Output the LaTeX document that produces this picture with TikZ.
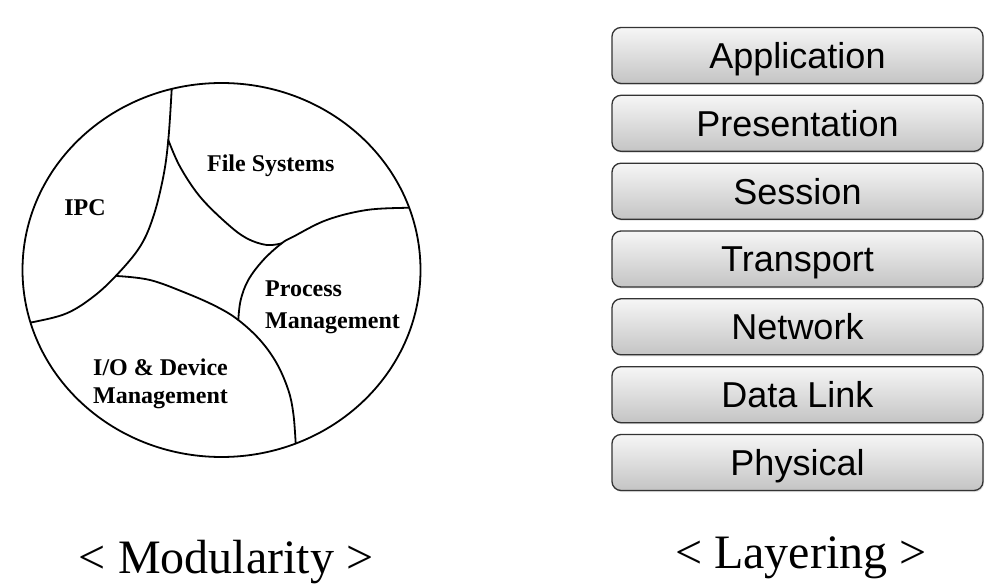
\documentclass[tikz,border=0pt]{standalone}
\usepackage{fontspec}
\setmainfont{Liberation Serif}
\newfontfamily\arialf{Liberation Sans}
\usetikzlibrary{shadows}
\definecolor{boxline}{HTML}{333333}
\definecolor{boxtop}{HTML}{F6F6F6}
\definecolor{boxbot}{HTML}{C4C4C4}
\tikzset{
  layer/.style={draw=boxline, line width=1.3pt, rounded corners=9pt,
    top color=boxtop, bottom color=boxbot,
    drop shadow={opacity=0.25, shadow xshift=1pt, shadow yshift=-1.5pt},
    minimum width=371pt, minimum height=56pt, inner sep=0pt,
    font=\arialf\fontsize{36}{42}\selectfont, text height=25.8pt, text depth=0pt},
  region/.style={line width=1.8pt, line cap=round},
  rlabel/.style={font=\bfseries\fontsize{24}{28}\selectfont, inner sep=0pt},
  caption/.style={font=\fontsize{48}{54}\selectfont, inner sep=0pt, anchor=base}
}
\begin{document}
\begin{tikzpicture}[x=1pt, y=-1pt]
\useasboundingbox (0,0) rectangle (1005,588);
% ---- modularity circle ----
\begin{scope}
  \clip (221.5,270) ellipse [x radius=199, y radius=187];
  \draw[region] plot[smooth, tension=0.6] coordinates {(171.9,80) (171.7,89.3) (168.3,140) (163.3,176.7) (153.3,216.7) (140,246.7) (116.7,275) (93.3,296.7) (66.7,313.3) (35,321.7) (22,323)};
  \draw[region] plot[smooth, tension=0.6] coordinates {(168.3,140) (180,166.7) (200,196.7) (226.7,223.3) (246.7,238.3) (266.7,245) (281.7,243.3)};
  \draw[region] plot[smooth, tension=0.6] coordinates {(420,207.5) (408.3,207.7) (366.7,210) (326.7,220) (293.3,236.7) (281.7,243.3) (263.3,260) (248.3,280) (240.7,300) (238.3,320)};
  \draw[region] plot[smooth, tension=0.6] coordinates {(116.7,276) (150,280) (186.7,293.3) (216.7,306.7) (238.3,320) (260,340) (276.7,363.3) (288.3,390) (293.3,413.3) (295.7,443.3) (296,455)};
\end{scope}
\draw[region] (221.5,270) ellipse [x radius=199, y radius=187];
\node[rlabel, anchor=base] (fs) at (270.8,171.5) {File Systems};
\node[rlabel, anchor=base] (ipc) at (85,216) {IPC};
\node[rlabel, anchor=base west] (pm1) at (265,296.7) {Process};
\node[rlabel, anchor=base west] (pm2) at (265,328.3) {Management};
\node[rlabel, anchor=base west] (io1) at (93,375) {I/O \& Device};
\node[rlabel, anchor=base west] (io2) at (93,403.3) {Management};
% ---- layering stack ----
\node[layer] (app) at (797.5,55.5) {Application};
\node[layer] (pre) at (797.5,123.3) {Presentation};
\node[layer] (ses) at (797.5,191.2) {Session};
\node[layer] (tra) at (797.5,259) {Transport};
\node[layer] (net) at (797.5,326.8) {Network};
\node[layer] (dl)  at (797.5,394.7) {Data Link};
\node[layer] (phy) at (797.5,462.5) {Physical};
% ---- captions ----
\node[caption] (cm) at (226,573.3) {< Modularity >};
\node[caption] (cl) at (800.8,568.3) {< Layering >};
\end{tikzpicture}
\end{document}
